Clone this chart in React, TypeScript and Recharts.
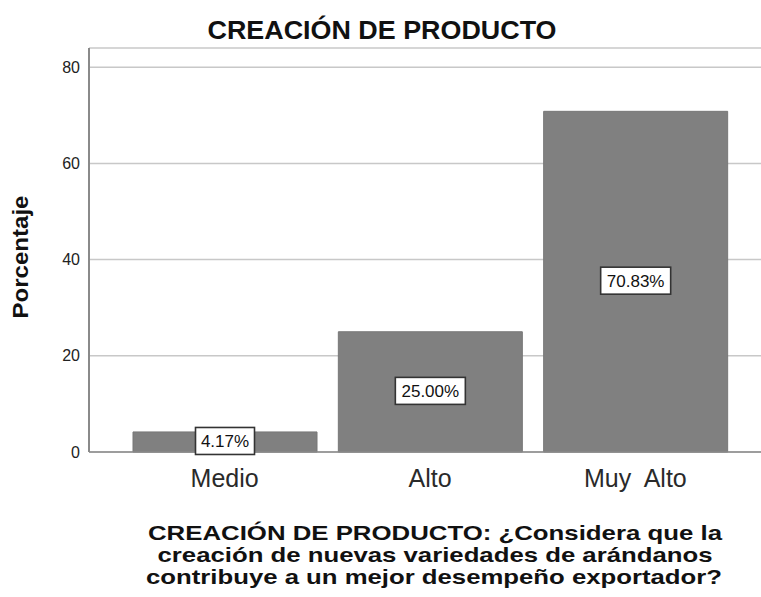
import React from 'react';
import { BarChart, Bar, XAxis, YAxis, CartesianGrid, LabelList } from 'recharts';

const categories = ['Medio', 'Alto', 'Muy  Alto'];
const percentages = [4.17, 25.0, 70.83];
const percentLabels = ['4.17%', '25.00%', '70.83%'];
const yTicks = [0, 20, 40, 60, 80];

const FONT = '"Liberation Sans", Arial, sans-serif';

const data = categories.map((name, i) => ({
  name,
  value: percentages[i],
  label: percentLabels[i],
}));

// white boxed percentage in the middle of each bar
const BoxLabel = (props: any) => {
  const { x, y, width, height, value } = props;
  const cx = x + width / 2;
  const cy = y + height / 2 - 1;
  const w = String(value).length * 11 + 4;
  const h = 27;
  return (
    <g>
      <rect x={cx - w / 2} y={cy - h / 2} width={w} height={h} fill="#fff" stroke="#333" strokeWidth={1.6} />
      <text x={cx} y={cy + 6} textAnchor="middle" fontSize={17} fontFamily={FONT} fill="#111">
        {value}
      </text>
    </g>
  );
};

const XTick = (props: any) => {
  const { x, y, payload } = props;
  return (
    <text x={x} y={y + 27} textAnchor="middle" fontSize={25} fontFamily={FONT} fill="#2a2a2a" style={{ whiteSpace: 'pre' }}>
      {payload.value}
    </text>
  );
};

export default function App() {
  return (
    <div style={{ position: 'absolute', left: 0, top: 0, width: 761, height: 597, background: '#fff' }}>
      <BarChart
        width={761}
        height={597}
        data={data}
        margin={{ top: 48, right: 0, left: 0, bottom: 115 }}
      >
        <CartesianGrid vertical={false} stroke="#c8c8c8" strokeWidth={1.5} />
        <XAxis
          dataKey="name"
          height={30}
          padding={{ left: 33, right: 23 }}
          tickLine={false}
          axisLine={{ stroke: '#8a8a8a', strokeWidth: 1.5 }}
          tick={<XTick />}
          interval={0}
        />
        <YAxis
          width={89}
          domain={[0, 84]}
          ticks={yTicks}
          tickLine={false}
          axisLine={{ stroke: '#8a8a8a', strokeWidth: 2 }}
          tick={{ fontSize: 16, fontFamily: FONT, fill: '#222' }}
          tickMargin={3}
        />
        <Bar dataKey="value" fill="#808080" stroke="#777" barSize={184} isAnimationActive={false}>
          <LabelList dataKey="label" content={<BoxLabel />} />
        </Bar>
      </BarChart>
      <svg width={761} height={597} style={{ position: 'absolute', left: 0, top: 0, pointerEvents: 'none' }}>
        <text x={382} y={39} textAnchor="middle" fontSize={25} fontWeight="bold" fontFamily={FONT} fill="#111"
          textLength={349} lengthAdjust="spacingAndGlyphs">
          CREACIÓN DE PRODUCTO
        </text>
        <text
          x={28}
          y={257}
          textAnchor="middle"
          fontSize={22}
          fontWeight="bold"
          fontFamily={FONT}
          fill="#111"
          textLength={123}
          lengthAdjust="spacingAndGlyphs"
          transform="rotate(-90 28 257)"
        >
          Porcentaje
        </text>
        <text textAnchor="middle" fontSize={20.5} fontWeight="bold" fontFamily={FONT} fill="#111">
          <tspan x={435} y={540} textLength={574} lengthAdjust="spacingAndGlyphs">CREACIÓN DE PRODUCTO: ¿Considera que la</tspan>
          <tspan x={435} y={562} textLength={555} lengthAdjust="spacingAndGlyphs">creación de nuevas variedades de arándanos</tspan>
          <tspan x={434} y={584} textLength={576} lengthAdjust="spacingAndGlyphs">contribuye a un mejor desempeño exportador?</tspan>
        </text>
      </svg>
    </div>
  );
}
